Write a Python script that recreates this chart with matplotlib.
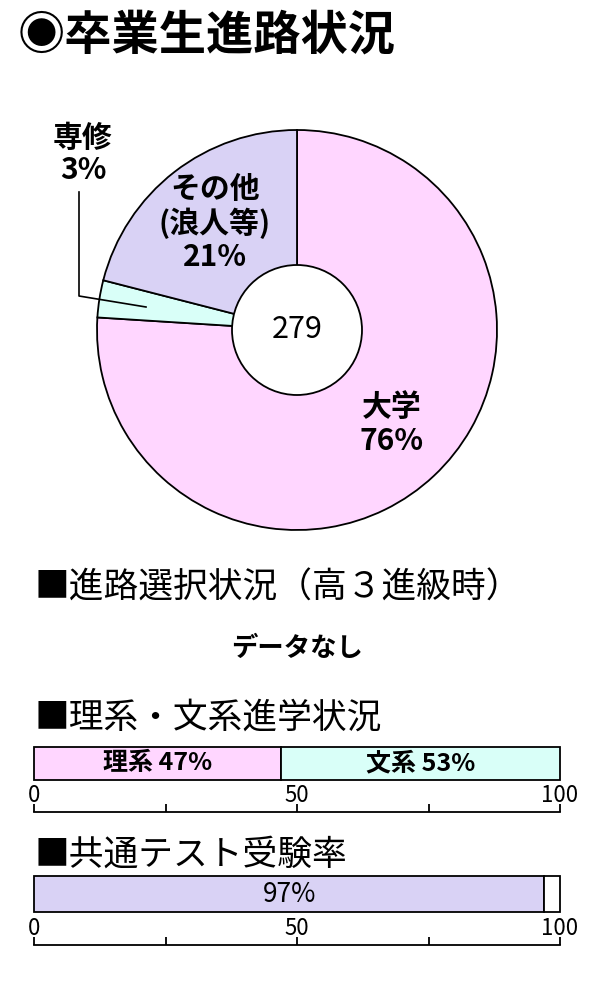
import matplotlib
matplotlib.use("Agg")
import matplotlib.pyplot as plt
from matplotlib.patches import Circle

plt.rcParams['font.family'] = ['Noto Sans CJK JP', 'DejaVu Sans']

# データ
titulo = '◉卒業生進路状況'
pie_labels = ['大学', '専修', 'その他\n(浪人等)']
pie_values = [76, 3, 21]
total_grad = 279
course_labels = ['理系', '文系']
course_values = [47, 53]
exam_rate = 97

PINK = '#FFD6FF'
CYAN = '#D9FFF8'
LAV = '#D9D2F5'
pie_colors = [PINK, CYAN, LAV]

W, H = 600, 1000
fig = plt.figure(figsize=(6, 10), dpi=100)


def px_axes(x0, y0, x1, y1):
    # y は画像の上端からのピクセル
    return fig.add_axes([x0 / W, 1 - y1 / H, (x1 - x0) / W, (y1 - y0) / H])


fig.text(18 / W, 1 - 36 / H, titulo, fontsize=34, fontweight='bold',
         ha='left', va='center')

# 円グラフ（中心 297,330  半径 200px）
ax = px_axes(0, 90, 600, 560)
ax.pie(pie_values, colors=pie_colors, startangle=90, counterclock=False,
       radius=1.0, wedgeprops=dict(edgecolor='black', linewidth=1.3))
ax.set_xlim(-297 / 200, 303 / 200)
ax.set_ylim(-230 / 200, 240 / 200)
ax.add_patch(Circle((0, 0), 0.325, facecolor='white', edgecolor='black',
                    linewidth=1.3, zorder=5))
ax.text(0, 0, str(total_grad), fontsize=22, ha='center', va='center', zorder=6)

ax.text(0.475, -0.47, f'{pie_labels[0]}\n{pie_values[0]}%', fontsize=21.5,
        fontweight='bold', ha='center', va='center', linespacing=1.15)
ax.text(-0.41, 0.535, f'{pie_labels[2]}\n{pie_values[2]}%', fontsize=21.5,
        fontweight='bold', ha='center', va='center', linespacing=1.15)
ax.text(-1.07, 0.88, f'{pie_labels[1]}\n{pie_values[1]}%', fontsize=21.5,
        fontweight='bold', ha='center', va='center', linespacing=1.1)
ax.plot([-1.09, -1.09, -0.755], [0.69, 0.17, 0.115], color='black',
        linewidth=1.2, clip_on=False)

# 見出し
fig.text(35 / W, 1 - 588 / H, '■進路選択状況（高３進級時）', fontsize=25,
         ha='left', va='center')
fig.text(297 / W, 1 - 648 / H, 'データなし', fontsize=19, fontweight='bold',
         ha='center', va='center')
fig.text(35 / W, 1 - 718 / H, '■理系・文系進学状況', fontsize=25,
         ha='left', va='center')
fig.text(35 / W, 1 - 855 / H, '■共通テスト受験率', fontsize=25,
         ha='left', va='center')


def scale_axis(y_line):
    sa = fig.add_axes([34 / W, 1 - (y_line + 10) / H, 526 / W, 10 / H])
    sa.set_xlim(0, 100)
    sa.set_ylim(0, 1)
    for s in ['left', 'right', 'bottom']:
        sa.spines[s].set_visible(False)
    sa.spines['top'].set_linewidth(1.3)
    sa.patch.set_visible(False)
    sa.set_yticks([])
    sa.xaxis.tick_top()
    sa.set_xticks([0, 25, 50, 75, 100])
    sa.set_xticklabels(['0', '', '50', '', '100'])
    sa.tick_params(axis='x', direction='out', length=5.5, width=1.3,
                   pad=-2, labelsize=16)


def bar_axes(y0, y1):
    ba = px_axes(34, y0, 560, y1)
    ba.set_xlim(0, 100)
    ba.set_ylim(-0.5, 0.5)
    ba.axis('off')
    return ba


# 理系・文系
ba = bar_axes(747, 780)
left = 0
for lab, val, col in zip(course_labels, course_values, [PINK, CYAN]):
    b = ba.barh(0, val, left=left, height=1, color=col, edgecolor='black',
                linewidth=1.3)
    for p in b:
        p.set_clip_on(False)
    ba.text(left + val / 2, 0, f'{lab} {val}%', fontsize=18, fontweight='bold',
            ha='center', va='center')
    left += val
scale_axis(812)

# 共通テスト受験率
ba2 = bar_axes(876, 912)
for lft, val, col in [(0, exam_rate, LAV), (exam_rate, 100 - exam_rate, 'white')]:
    b = ba2.barh(0, val, left=lft, height=1, color=col, edgecolor='black',
                 linewidth=1.3)
    for p in b:
        p.set_clip_on(False)
ba2.text(exam_rate / 2, 0, f'{exam_rate}%', fontsize=19, ha='center',
         va='center')
scale_axis(945)

fig.savefig('out.png', dpi=100)
